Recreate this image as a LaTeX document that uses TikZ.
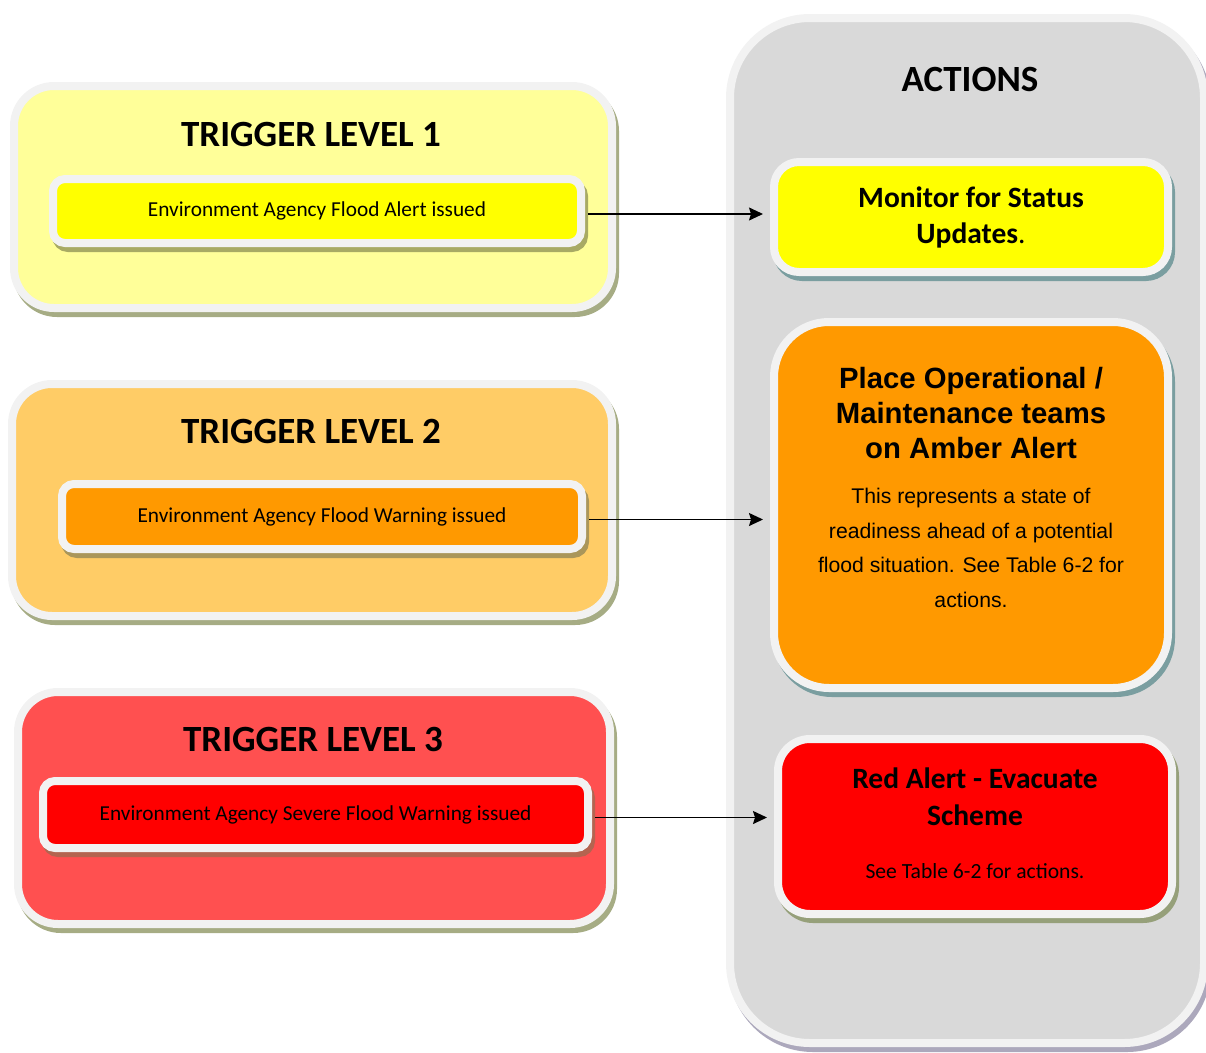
\documentclass[tikz,border=0pt]{standalone}
\usepackage{fontspec}
\setmainfont{Carlito}
\newfontfamily\arialfont{Liberation Sans}
\usetikzlibrary{shadows,arrows.meta}

\definecolor{rimgrey}{HTML}{F2F2F2}
\definecolor{actgrey}{HTML}{D9D9D9}
\definecolor{paleyellow}{HTML}{FFFF99}
\definecolor{paleamber}{HTML}{FFCC66}
\definecolor{palered}{HTML}{FF5050}
\definecolor{alertyellow}{HTML}{FFFF00}
\definecolor{alertamber}{HTML}{FF9900}
\definecolor{alertred}{HTML}{FF0000}
\definecolor{panelshadow}{RGB}{166,172,132}
\definecolor{yellowshadow}{RGB}{168,170,100}
\definecolor{ambershadow}{RGB}{170,150,90}
\definecolor{redshadow}{RGB}{180,100,80}
\definecolor{tealshadow}{RGB}{122,158,160}
\definecolor{oliveshadow}{RGB}{150,160,122}
\definecolor{columnshadow}{RGB}{172,168,188}

\tikzset{
  card/.style={draw=rimgrey, line width=8pt, inner sep=0pt},
  castshadow/.style={drop shadow={shadow xshift=3pt, shadow yshift=-5pt,
      fill=#1, draw=#1, opacity=1}},
  heading/.style={font=\fontsize{37}{44}\selectfont\bfseries},
  eatext/.style={font=\fontsize{21.3}{26}\selectfont},
  arr/.style={-{Stealth[length=14pt,width=13pt,inset=2pt]}, line width=1.4pt,
      shorten <=3pt, shorten >=7pt},
}

\begin{document}
\begin{tikzpicture}[x=1pt,y=-1pt]
\useasboundingbox (0,0) rectangle (1206,1052);

% actions column
\node[card, castshadow=columnshadow, fill=actgrey, rounded corners=80pt,
  minimum width=474pt, minimum height=1025pt] (actions) at (967,530.5) {};
\node[heading] (actitle) at (970,79) {ACTIONS};

% trigger levels
\node[card, castshadow=panelshadow, fill=paleyellow, rounded corners=40pt,
  minimum width=598pt, minimum height=222pt] (tl1) at (313,197) {};
\node[heading] (tl1title) at (311,134) {TRIGGER LEVEL 1};
\node[card, castshadow=yellowshadow, fill=alertyellow, rounded corners=12pt,
  minimum width=528pt, minimum height=64pt, eatext] (sub1) at (317,211)
  {Environment Agency Flood Alert issued};

\node[card, castshadow=panelshadow, fill=paleamber, rounded corners=40pt,
  minimum width=600pt, minimum height=232pt] (tl2) at (312,500) {};
\node[heading] (tl2title) at (311,431) {TRIGGER LEVEL 2};
\node[card, castshadow=ambershadow, fill=alertamber, rounded corners=12pt,
  minimum width=520pt, minimum height=65pt, eatext] (sub2) at (322,516.5)
  {Environment Agency Flood Warning issued};

\node[card, castshadow=panelshadow, fill=palered, rounded corners=40pt,
  minimum width=592pt, minimum height=232pt] (tl3) at (314,808) {};
\node[heading] (tl3title) at (313,739) {TRIGGER LEVEL 3};
\node[card, castshadow=redshadow, fill=alertred, rounded corners=12pt,
  minimum width=545pt, minimum height=67pt, eatext] (sub3) at (315.5,814.5)
  {Environment Agency Severe Flood Warning issued};

% action boxes
\node[card, castshadow=tealshadow, fill=alertyellow, rounded corners=25pt,
  minimum width=394pt, minimum height=110pt, align=center,
  font=\fontsize{29.5}{36}\selectfont] (act1) at (971,217)
  {\textbf{Monitor for Status}\\\textbf{Updates}.};

\node[card, castshadow=tealshadow, fill=alertamber, rounded corners=55pt,
  minimum width=394pt, minimum height=366pt] (act2) at (971,505) {};
\node[align=center, font=\arialfont\bfseries\fontsize{29.3}{35}\selectfont]
  (act2head) at (971,413) {Place Operational /\\Maintenance teams\\on Amber Alert};
\node[align=center, font=\arialfont\fontsize{21.2}{34.7}\selectfont]
  (act2body) at (971,548) {This represents a state of\\readiness ahead of a potential\\flood situation. See Table 6-2 for\\actions.};

\node[card, castshadow=oliveshadow, fill=alertred, rounded corners=32pt,
  minimum width=394pt, minimum height=175pt] (act3) at (975,826.5) {};
\node[align=center, font=\fontsize{29.5}{37}\selectfont\bfseries]
  (act3head) at (975,797) {Red Alert - Evacuate\\Scheme};
\node[font=\fontsize{21.6}{26}\selectfont] (act3body) at (975,871) {See Table 6-2 for actions.};

% connectors
\draw[arr] ([yshift=-3pt]sub1.east) -- ([yshift=-3pt]sub1.east -| act1.west);
\draw[arr] ([yshift=-3pt]sub2.east) -- ([yshift=-3pt]sub2.east -| act2.west);
\draw[arr] ([yshift=-3pt]sub3.east) -- ([yshift=-3pt]sub3.east -| act3.west);
\end{tikzpicture}
\end{document}
